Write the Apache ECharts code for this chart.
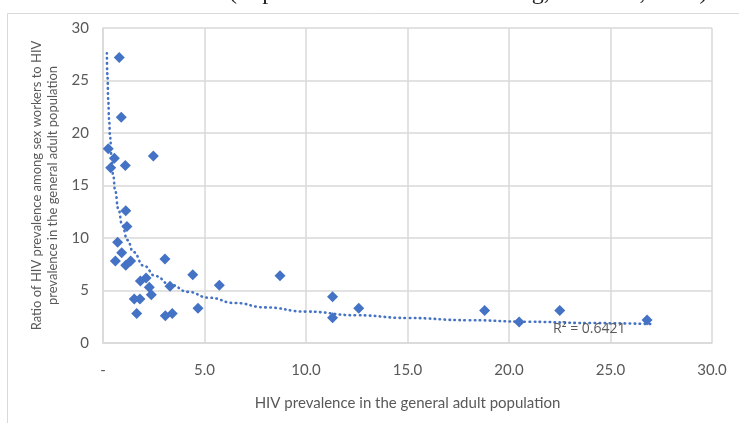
<!DOCTYPE html>
<html>
<head>
<meta charset="utf-8">
<script src="https://cdn.jsdelivr.net/npm/echarts@6/dist/echarts.min.js"></script>
<style>
html,body{margin:0;padding:0;background:#fff;}
#chart{width:739px;height:423px;}
</style>
</head>
<body>
<div id="chart"></div>
<script>
// HIV prevalence in general adult population (x) vs ratio (y)
const prevalence = [0.80,0.90,0.26,0.56,0.38,1.10,2.48,1.12,1.18,0.72,0.92,0.61,1.36,1.12,3.05,2.12,1.84,2.28,2.38,1.54,1.82,1.66,3.07,3.41,3.30,4.42,4.68,5.73,8.72,11.31,11.31,12.6,18.8,20.5,22.5,26.8];
const ratio      = [27.2,21.5,18.5,17.6,16.7,16.9,17.8,12.6,11.1,9.6,8.6,7.8,7.8,7.4,8.0,6.2,5.9,5.3,4.6,4.2,4.2,2.8,2.6,2.8,5.4,6.5,3.3,5.5,6.4,4.4,2.4,3.3,3.1,2.0,3.1,2.2];
// Power trendline
const trendX = [0.19,0.22,0.26,0.30,0.35,0.42,0.50,0.60,0.75,0.95,1.2,1.5,2.0,2.6,3.3,4.2,5.2,6.5,8.0,10.0,12.5,15.0,18.0,21.0,24.0,27.0];
const trendY = [27.6,25.4,23.1,21.3,19.6,17.7,16.0,14.5,12.8,11.2,9.8,8.66,7.37,6.36,5.57,4.87,4.32,3.81,3.39,2.99,2.64,2.38,2.17,2.02,1.9,1.8];
const xTicks = [0,5,10,15,20,25,30];
const yTicks = [0,5,10,15,20,25,30];
const r2Label = 'R² = 0.6421';
const xTitle = 'HIV prevalence in the general adult population';
const yTitle = 'Ratio of HIV prevalence among sex workers to HIV\nprevalence in the general adult population';
const topTextA = 'UNAIDS ';
const topTextB = '(https://www.aidsinfo.unaids.org, accessed, 2020)';

const blue = '#4472C4';
const grey = '#595959';
const gridC = '#d9d9d9';
const font = 'Lato, "Open Sans", sans-serif';

const chart = echarts.init(document.getElementById('chart'), null, {renderer:'canvas'});
chart.setOption({
  animation:false,
  backgroundColor:'#fff',
  grid:{left:103, right:27, top:28, bottom:80, containLabel:false},
  xAxis:{
    type:'value', min:xTicks[0], max:xTicks[xTicks.length-1], interval:5,
    name:xTitle, nameLocation:'middle', nameGap:53,
    nameTextStyle:{color:grey, fontSize:15, fontFamily:font},
    axisLine:{show:true, lineStyle:{color:gridC, width:1.5}},
    axisTick:{show:false},
    axisLabel:{color:grey, fontSize:15, fontFamily:font, margin:20,
      formatter:v => v===0 ? '-' : v.toFixed(1)},
    splitLine:{show:true, lineStyle:{color:gridC, width:1.5}}
  },
  yAxis:{
    type:'value', min:yTicks[0], max:yTicks[yTicks.length-1], interval:5,
    name:yTitle, nameLocation:'middle', nameGap:37,
    nameTextStyle:{color:grey, fontSize:13, fontFamily:font, lineHeight:16},
    axisLine:{show:true, lineStyle:{color:gridC, width:1.5}},
    axisTick:{show:false},
    axisLabel:{color:grey, fontSize:15, fontFamily:font, margin:14},
    splitLine:{show:true, lineStyle:{color:gridC, width:1.5}}
  },
  series:[
    {
      type:'line', data:trendX.map((x,i)=>[x,trendY[i]]),
      showSymbol:false, smooth:true, smoothMonotone:'x',
      lineStyle:{color:blue, width:2.6, type:[0.5,4.5], cap:'round'},
      z:2, silent:true
    },
    {
      type:'scatter', data:prevalence.map((x,i)=>[x,ratio[i]]),
      symbol:'diamond', symbolSize:[11,11],
      itemStyle:{color:blue, opacity:1},
      z:3
    }
  ],
  graphic:[
    {type:'rect', shape:{x:7.5, y:13.5, width:800, height:500},
     style:{fill:'none', stroke:gridC, lineWidth:1}, z:0, silent:true},
    {type:'text', x:226, y:-7, style:{text:topTextA, fill:'#222', font:'24px "Liberation Serif", serif', textAlign:'right', verticalAlign:'middle'}, z:10},
    {type:'text', x:229, y:-7, style:{text:topTextB, fill:'#222', font:'24px "Liberation Serif", serif', textAlign:'left', verticalAlign:'middle'}, z:10},
    {type:'text', x:553, y:329, style:{text:r2Label, fill:grey, font:'14px "Open Sans", sans-serif', verticalAlign:'middle'}, z:10}
  ]
});
</script>
</body>
</html>
